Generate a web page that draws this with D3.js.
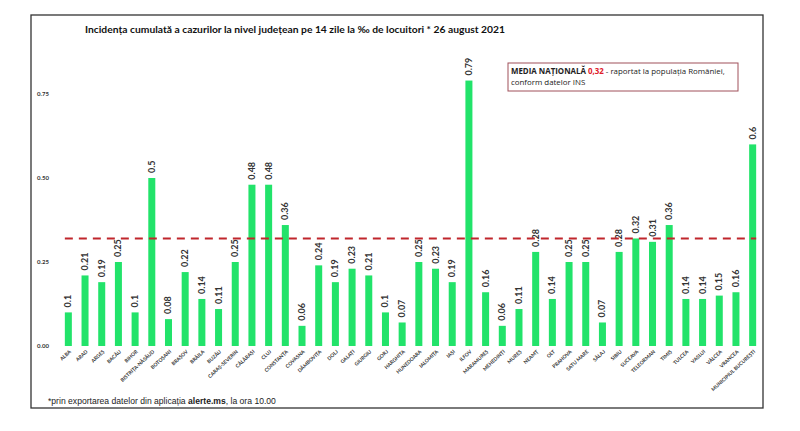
<!DOCTYPE html>
<html><head><meta charset="utf-8">
<script src="https://cdn.jsdelivr.net/npm/d3@7"></script>
<style>body{margin:0;background:#fff;}svg{display:block;}</style>
</head><body>
<svg id="c" width="800" height="431"></svg>
<script>
const counties = ["ALBA","ARAD","ARGEȘ","BACĂU","BIHOR","BISTRIȚA-NĂSĂUD","BOTOȘANI","BRAȘOV","BRĂILA","BUZĂU","CARAȘ-SEVERIN","CĂLĂRAȘI","CLUJ","CONSTANȚA","COVASNA","DÂMBOVIȚA","DOLJ","GALAȚI","GIURGIU","GORJ","HARGHITA","HUNEDOARA","IALOMIȚA","IAȘI","ILFOV","MARAMUREȘ","MEHEDINȚI","MUREȘ","NEAMȚ","OLT","PRAHOVA","SATU MARE","SĂLAJ","SIBIU","SUCEAVA","TELEORMAN","TIMIȘ","TULCEA","VASLUI","VÂLCEA","VRANCEA","MUNICIPIUL BUCUREȘTI"];
const incidence = [0.1,0.21,0.19,0.25,0.1,0.5,0.08,0.22,0.14,0.11,0.25,0.48,0.48,0.36,0.06,0.24,0.19,0.23,0.21,0.1,0.07,0.25,0.23,0.19,0.79,0.16,0.06,0.11,0.28,0.14,0.25,0.25,0.07,0.28,0.32,0.31,0.36,0.14,0.14,0.15,0.16,0.6];
const yTicks = [0, 0.25, 0.5, 0.75];
const nationalAverage = 0.32;

const svg = d3.select("#c");
const FONT = "Lato, 'Open Sans', sans-serif";
const FONT2 = "'Open Sans', 'Liberation Sans', sans-serif";

// frame
svg.append("rect").attr("x",31).attr("y",15).attr("width",732).attr("height",393)
  .attr("fill","#fff").attr("stroke","#333").attr("stroke-width",1.3);

const x = d3.scaleBand().domain(counties).range([60,761]).paddingInner(0.58).paddingOuter(0.29);
const y = d3.scaleLinear().domain([0,0.75]).range([346,94]);

// title
svg.append("text").attr("x",85).attr("y",33).attr("font-family",FONT).attr("font-weight","bold")
  .attr("font-size",10.3).attr("fill","#111")
  .text("Incidența cumulată a cazurilor la nivel județean pe 14 zile la ‰ de locuitori * 26 august 2021");

// y axis
const ya = svg.append("g").attr("transform","translate(55,0)")
  .call(d3.axisLeft(y).tickValues(yTicks).tickFormat(d3.format(".2f")).tickSize(0).tickPadding(2));
ya.select(".domain").remove();
ya.selectAll("text").attr("font-family",FONT).attr("font-weight","bold").attr("font-size",6).attr("fill","#333").attr("text-anchor","start").attr("x",-18);

// bars
svg.append("g").selectAll("rect").data(counties).join("rect")
  .attr("x",d=>x(d)).attr("width",x.bandwidth())
  .attr("y",(d,i)=>y(incidence[i])).attr("height",(d,i)=>y(0)-y(incidence[i]))
  .attr("fill","#22e36a");

// value labels
svg.append("g").selectAll("text").data(counties).join("text")
  .attr("transform",(d,i)=>`translate(${x(d)+x.bandwidth()/2+3},${y(incidence[i])-5}) rotate(-90)`)
  .attr("font-family",FONT).attr("font-size",9).attr("font-weight","bold").attr("fill","#333")
  .text((d,i)=>String(incidence[i]));

// average line
svg.append("line").attr("x1",x(counties[0])).attr("x2",x(counties[counties.length-1])+x.bandwidth())
  .attr("y1",y(nationalAverage)).attr("y2",y(nationalAverage))
  .attr("stroke","#c0262c").attr("stroke-width",2).attr("stroke-dasharray","8,6");

// x labels
const xa = svg.append("g").attr("transform","translate(0,351)")
  .call(d3.axisBottom(x).tickSize(0).tickPadding(0));
xa.select(".domain").remove();
xa.selectAll("text").attr("font-family",FONT).attr("font-weight","bold").attr("font-size",5).attr("fill","#333")
  .attr("text-anchor","end").attr("dy","0.3em")
  .attr("transform","rotate(-43)");
xa.selectAll(".tick").attr("transform",d=>`translate(${x(d)+x.bandwidth()/2+2},0)`);

// legend box
svg.append("rect").attr("x",508).attr("y",63).attr("width",230).attr("height",28)
  .attr("fill","#fff").attr("stroke","#a0505a").attr("stroke-width",1);
const lt = svg.append("text").attr("x",511).attr("y",74).attr("font-family",FONT2).attr("font-size",7.9).attr("fill","#222");
lt.append("tspan").attr("font-weight","bold").text("MEDIA NAȚIONALĂ ");
lt.append("tspan").attr("font-weight","bold").attr("fill","#e0202a").text(String(nationalAverage).replace(".",","));
lt.append("tspan").text(" - raportat la populația României,");
svg.append("text").attr("x",511).attr("y",85).attr("font-family",FONT2).attr("font-size",7.9).attr("fill","#222")
  .text("conform datelor INS");

// footnote
const ft = svg.append("text").attr("x",48).attr("y",404).attr("font-family","'Liberation Sans', Arial, sans-serif").attr("font-size",8.6).attr("fill","#222");
ft.append("tspan").text("*prin exportarea datelor din aplicația ");
ft.append("tspan").attr("font-weight","bold").text("alerte.ms");
ft.append("tspan").text(", la ora 10.00");
</script>
</body></html>
